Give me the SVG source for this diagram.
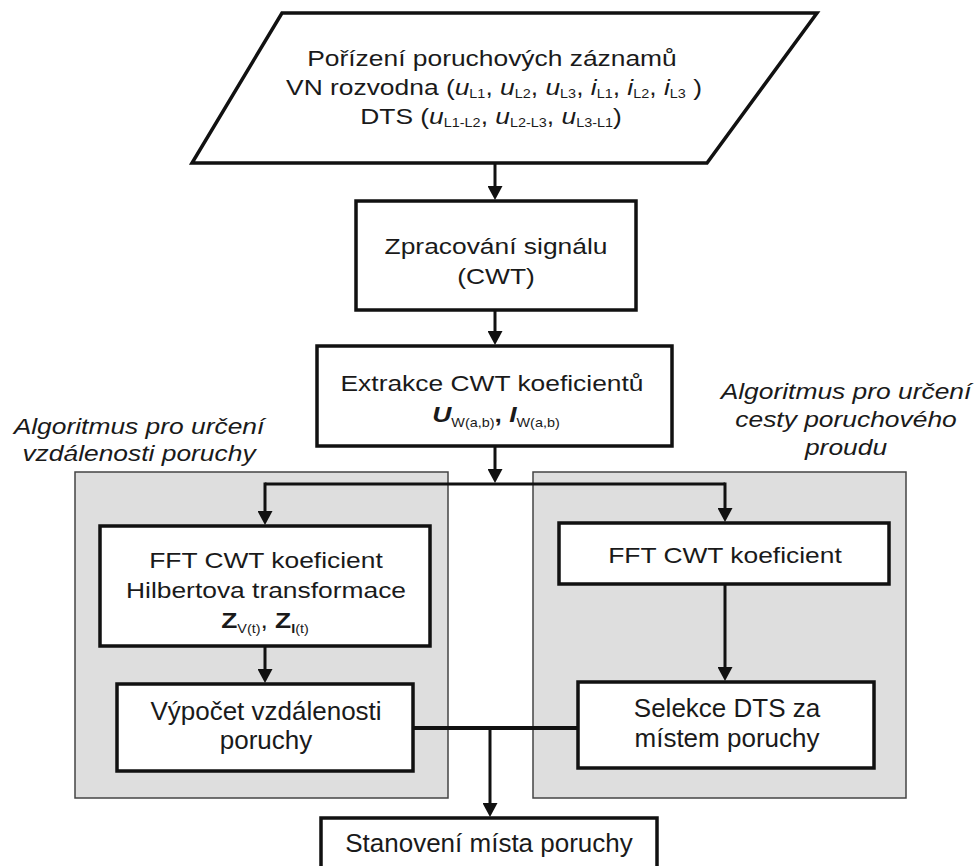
<svg xmlns="http://www.w3.org/2000/svg" width="978" height="866" viewBox="0 0 978 866">
  <style>
    .box { fill: #ffffff; stroke: #111111; stroke-width: 3.5; stroke-linejoin: miter; }
    .panel { fill: #dedede; stroke: #444444; stroke-width: 1.5; }
    .con { fill: none; stroke: #111111; stroke-width: 3; }
    .thick { stroke-width: 4; }
    text { font-family: "Liberation Sans", Arial, sans-serif; fill: #1a1a1a; text-anchor: middle; }
    .s { font-size: 22px; }
    .b { font-size: 26px; }
    .it { font-style: italic; }
    .bi { font-style: italic; font-weight: bold; }
    .bd { font-weight: bold; }
    .sub { font-size: 12px; font-style: normal; font-weight: normal; }
  </style>
  <defs>
    <marker id="arrow" markerUnits="userSpaceOnUse" viewBox="0 0 14 15" refX="2" refY="7.5" markerWidth="14" markerHeight="15" orient="auto">
      <path d="M0,0 L14,7.5 L0,15 Z" fill="#111111"/>
    </marker>
  </defs>

  <g id="panel-left">
    <rect class="panel" x="75" y="472" width="373" height="326"/>
  </g>
  <g id="panel-right">
    <rect class="panel" x="533" y="472" width="373" height="326"/>
  </g>

  <g id="label-left">
    <text class="s it" transform="translate(139,434) scale(1.2,1)">Algoritmus pro určení</text>
    <text class="s it" transform="translate(139,461) scale(1.2,1)">vzdálenosti poruchy</text>
  </g>
  <g id="label-right">
    <text class="s it" transform="translate(846,399) scale(1.2,1)">Algoritmus pro určení</text>
    <text class="s it" transform="translate(846,427) scale(1.2,1)">cesty poruchového</text>
    <text class="s it" transform="translate(846,455) scale(1.2,1)">proudu</text>
  </g>

  <g id="connectors">
    <path class="con" d="M495,163 V188" marker-end="url(#arrow)"/>
    <path class="con" d="M495,310 V333" marker-end="url(#arrow)"/>
    <path class="con" d="M495,446 V471" marker-end="url(#arrow)"/>
    <path class="con" d="M265,484 H725"/>
    <path class="con" d="M265,482.5 V513" marker-end="url(#arrow)"/>
    <path class="con" d="M725,482.5 V510" marker-end="url(#arrow)"/>
    <path class="con" d="M265,646 V671" marker-end="url(#arrow)"/>
    <path class="con" d="M725,584 V669" marker-end="url(#arrow)"/>
    <path class="con thick" d="M413,728 H578"/>
    <path class="con" d="M490,728 V805" marker-end="url(#arrow)"/>
  </g>

  <g id="node-input">
    <polygon class="box" points="282,13 817,13 707,163 192,163"/>
    <text class="s" transform="translate(492,66) scale(1.2,1)">Pořízení poruchových záznamů</text>
    <text class="s" transform="translate(494,95) scale(1.2,1)">VN rozvodna (<tspan class="it">u</tspan><tspan class="sub" dy="3">L1</tspan><tspan dy="-3">, </tspan><tspan class="it">u</tspan><tspan class="sub" dy="3">L2</tspan><tspan dy="-3">, </tspan><tspan class="it">u</tspan><tspan class="sub" dy="3">L3</tspan><tspan dy="-3">, </tspan><tspan class="it">i</tspan><tspan class="sub" dy="3">L1</tspan><tspan dy="-3">, </tspan><tspan class="it">i</tspan><tspan class="sub" dy="3">L2</tspan><tspan dy="-3">, </tspan><tspan class="it">i</tspan><tspan class="sub" dy="3">L3</tspan><tspan dy="-3"> )</tspan></text>
    <text class="s" transform="translate(491,124) scale(1.2,1)">DTS (<tspan class="it">u</tspan><tspan class="sub" dy="3">L1-L2</tspan><tspan dy="-3">, </tspan><tspan class="it">u</tspan><tspan class="sub" dy="3">L2-L3</tspan><tspan dy="-3">, </tspan><tspan class="it">u</tspan><tspan class="sub" dy="3">L3-L1</tspan><tspan dy="-3">)</tspan></text>
  </g>

  <g id="node-cwt">
    <rect class="box" x="356" y="201" width="280" height="109"/>
    <text class="s" transform="translate(496,254) scale(1.2,1)">Zpracování signálu</text>
    <text class="s" transform="translate(496,284) scale(1.2,1)">(CWT)</text>
  </g>

  <g id="node-extract">
    <rect class="box" x="317" y="346" width="355" height="100"/>
    <text class="s" transform="translate(492,391) scale(1.2,1)">Extrakce CWT koeficientů</text>
    <text class="s" transform="translate(496,422) scale(1.2,1)"><tspan class="bi">U</tspan><tspan class="sub" dy="5">W(a,b)</tspan><tspan class="bd" dy="-5">, </tspan><tspan class="bi">I</tspan><tspan class="sub" dy="5">W(a,b)</tspan></text>
  </g>

  <g id="node-fft-left">
    <rect class="box" x="100" y="526" width="330" height="120"/>
    <text class="s" transform="translate(266,568) scale(1.2,1)">FFT CWT koeficient</text>
    <text class="s" transform="translate(266,598) scale(1.2,1)">Hilbertova transformace</text>
    <text class="s" transform="translate(265,628) scale(1.2,1)"><tspan class="bd">Z</tspan><tspan class="sub" dy="5">V(t)</tspan><tspan dy="-5">, </tspan><tspan class="bd">Z</tspan><tspan class="sub" dy="5"><tspan class="bd">I</tspan>(t)</tspan></text>
  </g>

  <g id="node-vypocet">
    <rect class="box" x="117" y="684" width="296" height="87"/>
    <text class="b" x="266" y="720">Výpočet vzdálenosti</text>
    <text class="b" x="266" y="749">poruchy</text>
  </g>

  <g id="node-fft-right">
    <rect class="box" x="559" y="523" width="330" height="61"/>
    <text class="s" transform="translate(725,563) scale(1.2,1)">FFT CWT koeficient</text>
  </g>

  <g id="node-selekce">
    <rect class="box" x="578" y="682" width="296" height="86"/>
    <text class="b" x="727" y="717">Selekce DTS za</text>
    <text class="b" x="727" y="747">místem poruchy</text>
  </g>

  <g id="node-stanoveni">
    <rect class="box" x="321" y="818" width="336" height="70"/>
    <text class="b" x="489" y="852">Stanovení místa poruchy</text>
  </g>
</svg>
